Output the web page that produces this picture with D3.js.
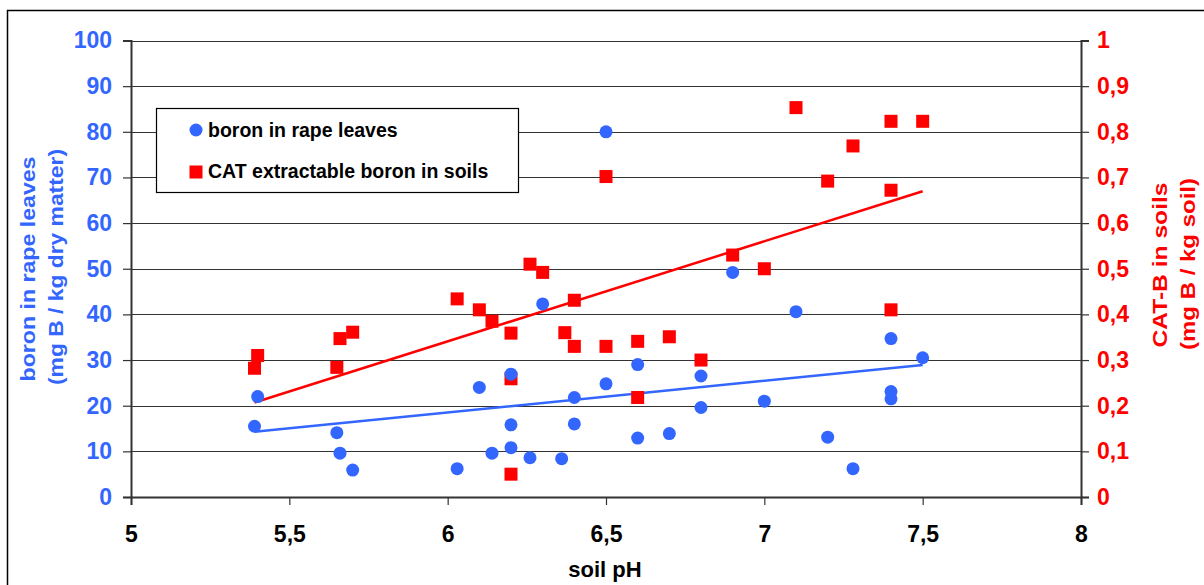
<!DOCTYPE html>
<html>
<head>
<meta charset="utf-8">
<script src="https://cdn.jsdelivr.net/npm/d3@7/dist/d3.min.js"></script>
<style>
  html, body { margin: 0; padding: 0; background: #fff; }
  svg { display: block; font-family: "Liberation Sans", Arial, sans-serif; font-weight: bold; }
</style>
</head>
<body>
<svg id="chart" width="1204" height="585"></svg>
<script>
// Soil pH and boron content of rape leaves (left axis)
const leafPH = [5.4, 5.39, 5.65, 5.66, 5.7, 6.03, 6.1, 6.14, 6.2, 6.2, 6.2, 6.26, 6.3, 6.36, 6.4, 6.4,
                6.5, 6.5, 6.6, 6.6, 6.7, 6.8, 6.8, 6.9, 7.0, 7.1, 7.2, 7.28, 7.4, 7.4, 7.4, 7.5];
const leafBoron = [22, 15.5, 14.1, 9.6, 5.9, 6.2, 24, 9.6, 26.9, 15.8, 10.8, 8.6, 42.3, 8.4, 21.8, 16,
                   24.8, 80, 29, 12.9, 13.9, 26.5, 19.6, 49.2, 21, 40.6, 13.1, 6.2, 34.7, 23.1, 21.5, 30.5];

// Soil pH and CAT extractable boron in soils (right axis)
const soilPH = [5.4, 5.39, 5.66, 5.7, 5.65, 6.03, 6.1, 6.14, 6.2, 6.2, 6.2, 6.26, 6.3, 6.4, 6.37, 6.4,
                6.5, 6.5, 6.6, 6.6, 6.7, 6.8, 6.9, 7.0, 7.1, 7.4, 7.5, 7.28, 7.2, 7.4, 7.4];
const soilBoron = [0.31, 0.282, 0.347, 0.361, 0.284, 0.434, 0.41, 0.385, 0.359, 0.259, 0.05, 0.51, 0.492, 0.431, 0.36, 0.33,
                   0.33, 0.702, 0.341, 0.218, 0.351, 0.3, 0.53, 0.5, 0.853, 0.823, 0.823, 0.769, 0.692, 0.672, 0.41];

const xTicks = [5, 5.5, 6, 6.5, 7, 7.5, 8];
const leftTicks = [0, 10, 20, 30, 40, 50, 60, 70, 80, 90, 100];
const rightTicks = [0, 0.1, 0.2, 0.3, 0.4, 0.5, 0.6, 0.7, 0.8, 0.9, 1];

const seriesNames = ["boron in rape leaves", "CAT extractable boron in soils"];
const BLUE = "#3366FF", RED = "#FF0000";

const svg = d3.select("#chart");
const comma = d3.formatLocale({ decimal: ",", thousands: ".", grouping: [3], currency: ["", ""] }).format("~g");

const x = d3.scaleLinear().domain([5, 8]).range([131, 1081]);
const yL = d3.scaleLinear().domain([0, 100]).range([497, 40.5]);
const yR = d3.scaleLinear().domain([0, 1]).range([497, 40.5]);

// outer chart frame
svg.append("rect").attr("x", 7.5).attr("y", 10.5).attr("width", 1400).attr("height", 900)
  .attr("fill", "none").attr("stroke", "#000").attr("stroke-width", 1.5);

// horizontal gridlines
svg.append("g").selectAll("line").data(leftTicks.slice(1)).join("line")
  .attr("x1", x(5)).attr("x2", x(8))
  .attr("y1", d => Math.round(yL(d)) + 0.5).attr("y2", d => Math.round(yL(d)) + 0.5)
  .attr("stroke", "#333").attr("stroke-width", 1);

// axes
const tickFont = g => g.selectAll("text").style("font-size", "23px").style("font-weight", "bold")
  .style("font-family", "Liberation Sans, Arial, sans-serif");

const gL = svg.append("g").attr("transform", `translate(${x(5)},0)`)
  .call(d3.axisLeft(yL).tickValues(leftTicks).tickSize(8).tickPadding(11).tickFormat(comma));
gL.call(tickFont).selectAll("text").attr("fill", BLUE);

const gR = svg.append("g").attr("transform", `translate(${x(8)},0)`)
  .call(d3.axisRight(yR).tickValues(rightTicks).tickSize(8).tickPadding(8).tickFormat(comma));
gR.call(tickFont).selectAll("text").attr("fill", RED);

const gB = svg.append("g").attr("transform", `translate(0,${yL(0)})`)
  .call(d3.axisBottom(x).tickValues(xTicks).tickSize(8).tickPadding(21).tickFormat(comma));
gB.call(tickFont).selectAll("text").attr("fill", "#000");

[gL, gR, gB].forEach(g => {
  g.selectAll(".domain").attr("stroke", "#333").attr("stroke-width", 2);
  g.selectAll(".tick line").attr("stroke", "#333").attr("stroke-width", 1.2);
});

// linear trendlines (least squares)
function trend(xs, ys) {
  const mx = d3.mean(xs), my = d3.mean(ys);
  let sxy = 0, sxx = 0;
  xs.forEach((v, i) => { sxy += (v - mx) * (ys[i] - my); sxx += (v - mx) * (v - mx); });
  const b = sxy / sxx, a = my - b * mx;
  const [x0, x1] = d3.extent(xs);
  return [[x0, a + b * x0], [x1, a + b * x1]];
}
svg.append("path").datum(trend(leafPH, leafBoron))
  .attr("d", d3.line().x(d => x(d[0])).y(d => yL(d[1])))
  .attr("stroke", BLUE).attr("stroke-width", 2.5).attr("fill", "none");
svg.append("path").datum(trend(soilPH, soilBoron))
  .attr("d", d3.line().x(d => x(d[0])).y(d => yR(d[1])))
  .attr("stroke", RED).attr("stroke-width", 2.5).attr("fill", "none");

// points
const S = 13;
svg.append("g").selectAll("rect").data(soilPH.map((p, i) => [p, soilBoron[i]])).join("rect")
  .attr("x", d => x(d[0]) - S / 2).attr("y", d => yR(d[1]) - S / 2)
  .attr("width", S).attr("height", S).attr("fill", RED);
svg.append("g").selectAll("circle").data(leafPH.map((p, i) => [p, leafBoron[i]])).join("circle")
  .attr("cx", d => x(d[0])).attr("cy", d => yL(d[1])).attr("r", 6.5).attr("fill", BLUE);

// legend
const lg = svg.append("g");
lg.append("rect").attr("x", 156.5).attr("y", 108.5).attr("width", 362).attr("height", 84)
  .attr("fill", "#fff").attr("stroke", "#000").attr("stroke-width", 1.2);
lg.append("circle").attr("cx", 196).attr("cy", 130).attr("r", 6.5).attr("fill", BLUE);
lg.append("rect").attr("x", 196 - S / 2).attr("y", 172 - S / 2).attr("width", S).attr("height", S).attr("fill", RED);
lg.append("text").attr("x", 208).attr("y", 137).attr("font-size", 19.5).attr("fill", "#000").text(seriesNames[0]);
lg.append("text").attr("x", 208).attr("y", 178).attr("font-size", 19.5).attr("fill", "#000").text(seriesNames[1]);

// axis titles
svg.append("text").attr("x", 605).attr("y", 577).attr("text-anchor", "middle")
  .attr("font-size", 22).attr("fill", "#000").text("soil pH");

const lt = svg.append("g").attr("fill", BLUE).attr("font-size", 21).attr("text-anchor", "middle");
lt.append("text").attr("transform", "translate(35,269) rotate(-90)")
  .attr("textLength", 225).attr("lengthAdjust", "spacingAndGlyphs").text("boron in rape leaves");
lt.append("text").attr("transform", "translate(63,267) rotate(-90)")
  .attr("textLength", 236).attr("lengthAdjust", "spacingAndGlyphs").text("(mg B / kg dry matter)");

const rt = svg.append("g").attr("fill", RED).attr("font-size", 21).attr("text-anchor", "middle");
rt.append("text").attr("transform", "translate(1167,265) rotate(-90)")
  .attr("textLength", 165).attr("lengthAdjust", "spacingAndGlyphs").text("CAT-B in soils");
rt.append("text").attr("transform", "translate(1195,264) rotate(-90)")
  .attr("textLength", 172).attr("lengthAdjust", "spacingAndGlyphs").text("(mg B / kg soil)");
</script>
</body>
</html>
